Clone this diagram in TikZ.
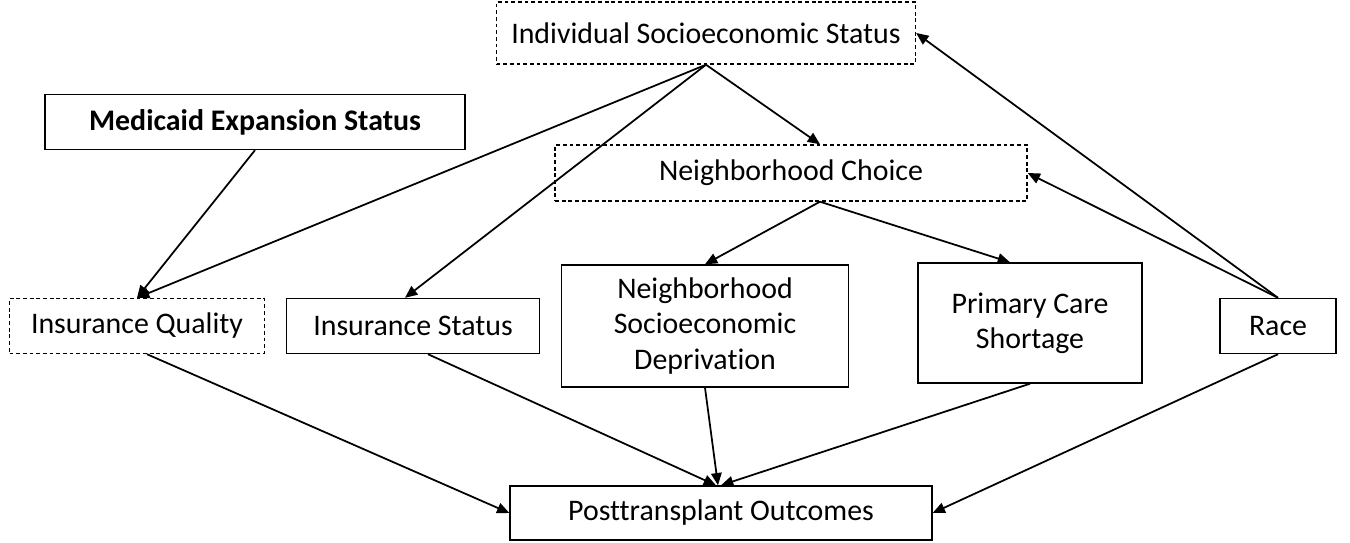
\documentclass[tikz,border=0pt]{standalone}
\usepackage{fontspec}
\setmainfont{Carlito}[Ligatures=NoCommon]
\usetikzlibrary{arrows.meta,calc}
\begin{document}
\begin{tikzpicture}[x=0.02cm, y=-0.02cm, line width=1pt,
    >={Triangle[length=7pt,width=6pt]},
    box/.style = {draw, line width=0.8pt, align=center, inner sep=0pt,
      font=\fontsize{17}{20}\selectfont},
    latent/.style = {box, dash pattern=on 2.2pt off 1.6pt}]
  \useasboundingbox (0,0) rectangle (1350,542);
  \node[latent, minimum width=8.38cm, minimum height=1.24cm] (iss) at (706,33) {Individual Socioeconomic Status};
  \node[box, minimum width=8.4cm, minimum height=1.1cm] (mes) at (255,122) {\textbf{Medicaid Expansion Status}};
  \node[latent, minimum width=9.44cm, minimum height=1.12cm] (nc) at (791,173) {Neighborhood Choice};
  \node[latent, minimum width=5.1cm, minimum height=1.1cm] (iq) at (137,326) {Insurance Quality};
  \node[box, minimum width=5.06cm, minimum height=1.1cm] (is) at (413,326) {Insurance Status};
  \node[box, minimum width=5.74cm, minimum height=2.44cm] (nsd) at (705,326) {Neighborhood\\Socioeconomic\\Deprivation};
  \node[box, minimum width=4.48cm, minimum height=2.4cm] (pcs) at (1030,323) {Primary Care\\Shortage};
  \node[box, minimum width=2.32cm, minimum height=1.1cm] (race) at (1278,326) {Race};
  \node[box, minimum width=8.44cm, minimum height=1.08cm] (po) at (721,513) {Posttransplant Outcomes};
  % socioeconomic paths
  \draw[->] (iss.south) -- (iq.north);
  \draw[->] (iss.south) -- ($(is.north)+(-8,0)$);
  \draw[->] (iss.south) -- ($(nc.north)+(29,0)$);
  \draw[->] (mes.south) -- (iq.north);
  \draw[->] ($(nc.south)+(29,0)$) -- (nsd.north);
  \draw[->] ($(nc.south)+(29,0)$) -- ($(pcs.north)+(-20,0)$);
  \draw[->] (race.north) -- (iss.east);
  \draw[->] (race.north) -- (nc.east);
  % outcome paths
  \draw[->] ($(iq.south)+(10,0)$) -- (po.west);
  \draw[->] ($(is.south)+(15,0)$) -- ($(po.north)+(-5,0)$);
  \draw[->] (nsd.south) -- ($(po.north)+(-3,0)$);
  \draw[->] (pcs.south) -- (po.north);
  \draw[->] (race.south) -- (po.east);
\end{tikzpicture}
\end{document}
